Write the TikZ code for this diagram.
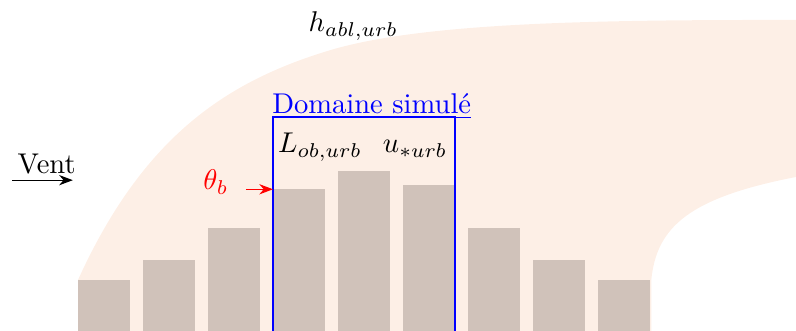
\documentclass[tikz,border=0pt]{standalone}
\usepackage{amsmath, amssymb}
\usetikzlibrary{arrows.meta, positioning, calc}
\definecolor{AblPeach}{RGB}{253, 239, 230}
\definecolor{BuildingTaupe}{RGB}{208, 194, 186}
\definecolor{DomainBlue}{RGB}{0, 0, 255}
\definecolor{InletRed}{RGB}{255, 0, 0}

\begin{document}
\begin{tikzpicture}[
    x=0.8cm,
    y=0.8cm,
    buildingbox/.style={
        fill=BuildingTaupe,
        draw=none
    },
    domainbox/.style={
        draw=DomainBlue,
        thick
    },
    labeltext/.style={
        anchor=base west,
        inner sep=0pt,
        font=\normalsize
    }
]
\useasboundingbox (0,0) rectangle (12.246,5.092);
% -------------------------------------------------------------
% URBAN BOUNDARY LAYER
% -------------------------------------------------------------
\fill[AblPeach]
(1.2,0)
-- (1.2,0.785)
.. controls (2.2,2.985) and (3.48,3.84) .. (5.08,4.32)
.. controls (6.58,4.77) and (9.5,4.785) .. (12.25,4.785)
-- (12.25,2.37)
.. controls (10.6,2.05) and (10.1,1.6) .. (10.02,0.785)
-- (10.02,0)
-- cycle;
% -------------------------------------------------------------
% BUILDINGS
% -------------------------------------------------------------
\foreach \i/\h in {1/0.785, 2/1.09, 3/1.585, 4/2.18, 5/2.46, 6/2.25, 7/1.585, 8/1.09, 9/0.785}
{
    \fill[buildingbox] (\i+0.2,\h) coordinate (building\i) rectangle (\i+1.0,-0.1);
}
% -------------------------------------------------------------
% SIMULATED DOMAIN
% -------------------------------------------------------------
\draw[domainbox]
(4.2,-0.1)
|- (7.0,3.29)
-- (7.0,-0.1);
\node[
    labeltext,
    text=DomainBlue
] (domaineNode) at (4.18,3.35)
{\underline{Domaine simulé}};
% -------------------------------------------------------------
% LABELS
% -------------------------------------------------------------
\node[labeltext] (hablNode) at (4.74,4.6)
{$h_{abl,urb}$};
\node[labeltext] (lobNode) at (4.27,2.74)
{$L_{ob,urb}$};
\node[
    labeltext,
    base right=7pt of lobNode
] (ustarNode)
{$u_{*urb}$};
% -------------------------------------------------------------
% WIND
% -------------------------------------------------------------
\coordinate (ventStart) at (0.185,2.32);
\coordinate (ventEnd) at (1.12,2.32);
\draw[
    -{Stealth}
]
(ventStart)
--
node[
    above,
    pos=0.57,
    inner sep=2pt
] (ventNode)
{Vent}
(ventEnd);
% -------------------------------------------------------------
% INLET TEMPERATURE
% -------------------------------------------------------------
\node[
    labeltext,
    text=InletRed
] (thetaNode) at (3.12,2.17)
{$\theta_b$};
\draw[
    draw=InletRed,
    shorten <=6pt,
    -{Stealth}
]
(thetaNode.east |- building4)
--
(building4);
\end{tikzpicture}
\end{document}
